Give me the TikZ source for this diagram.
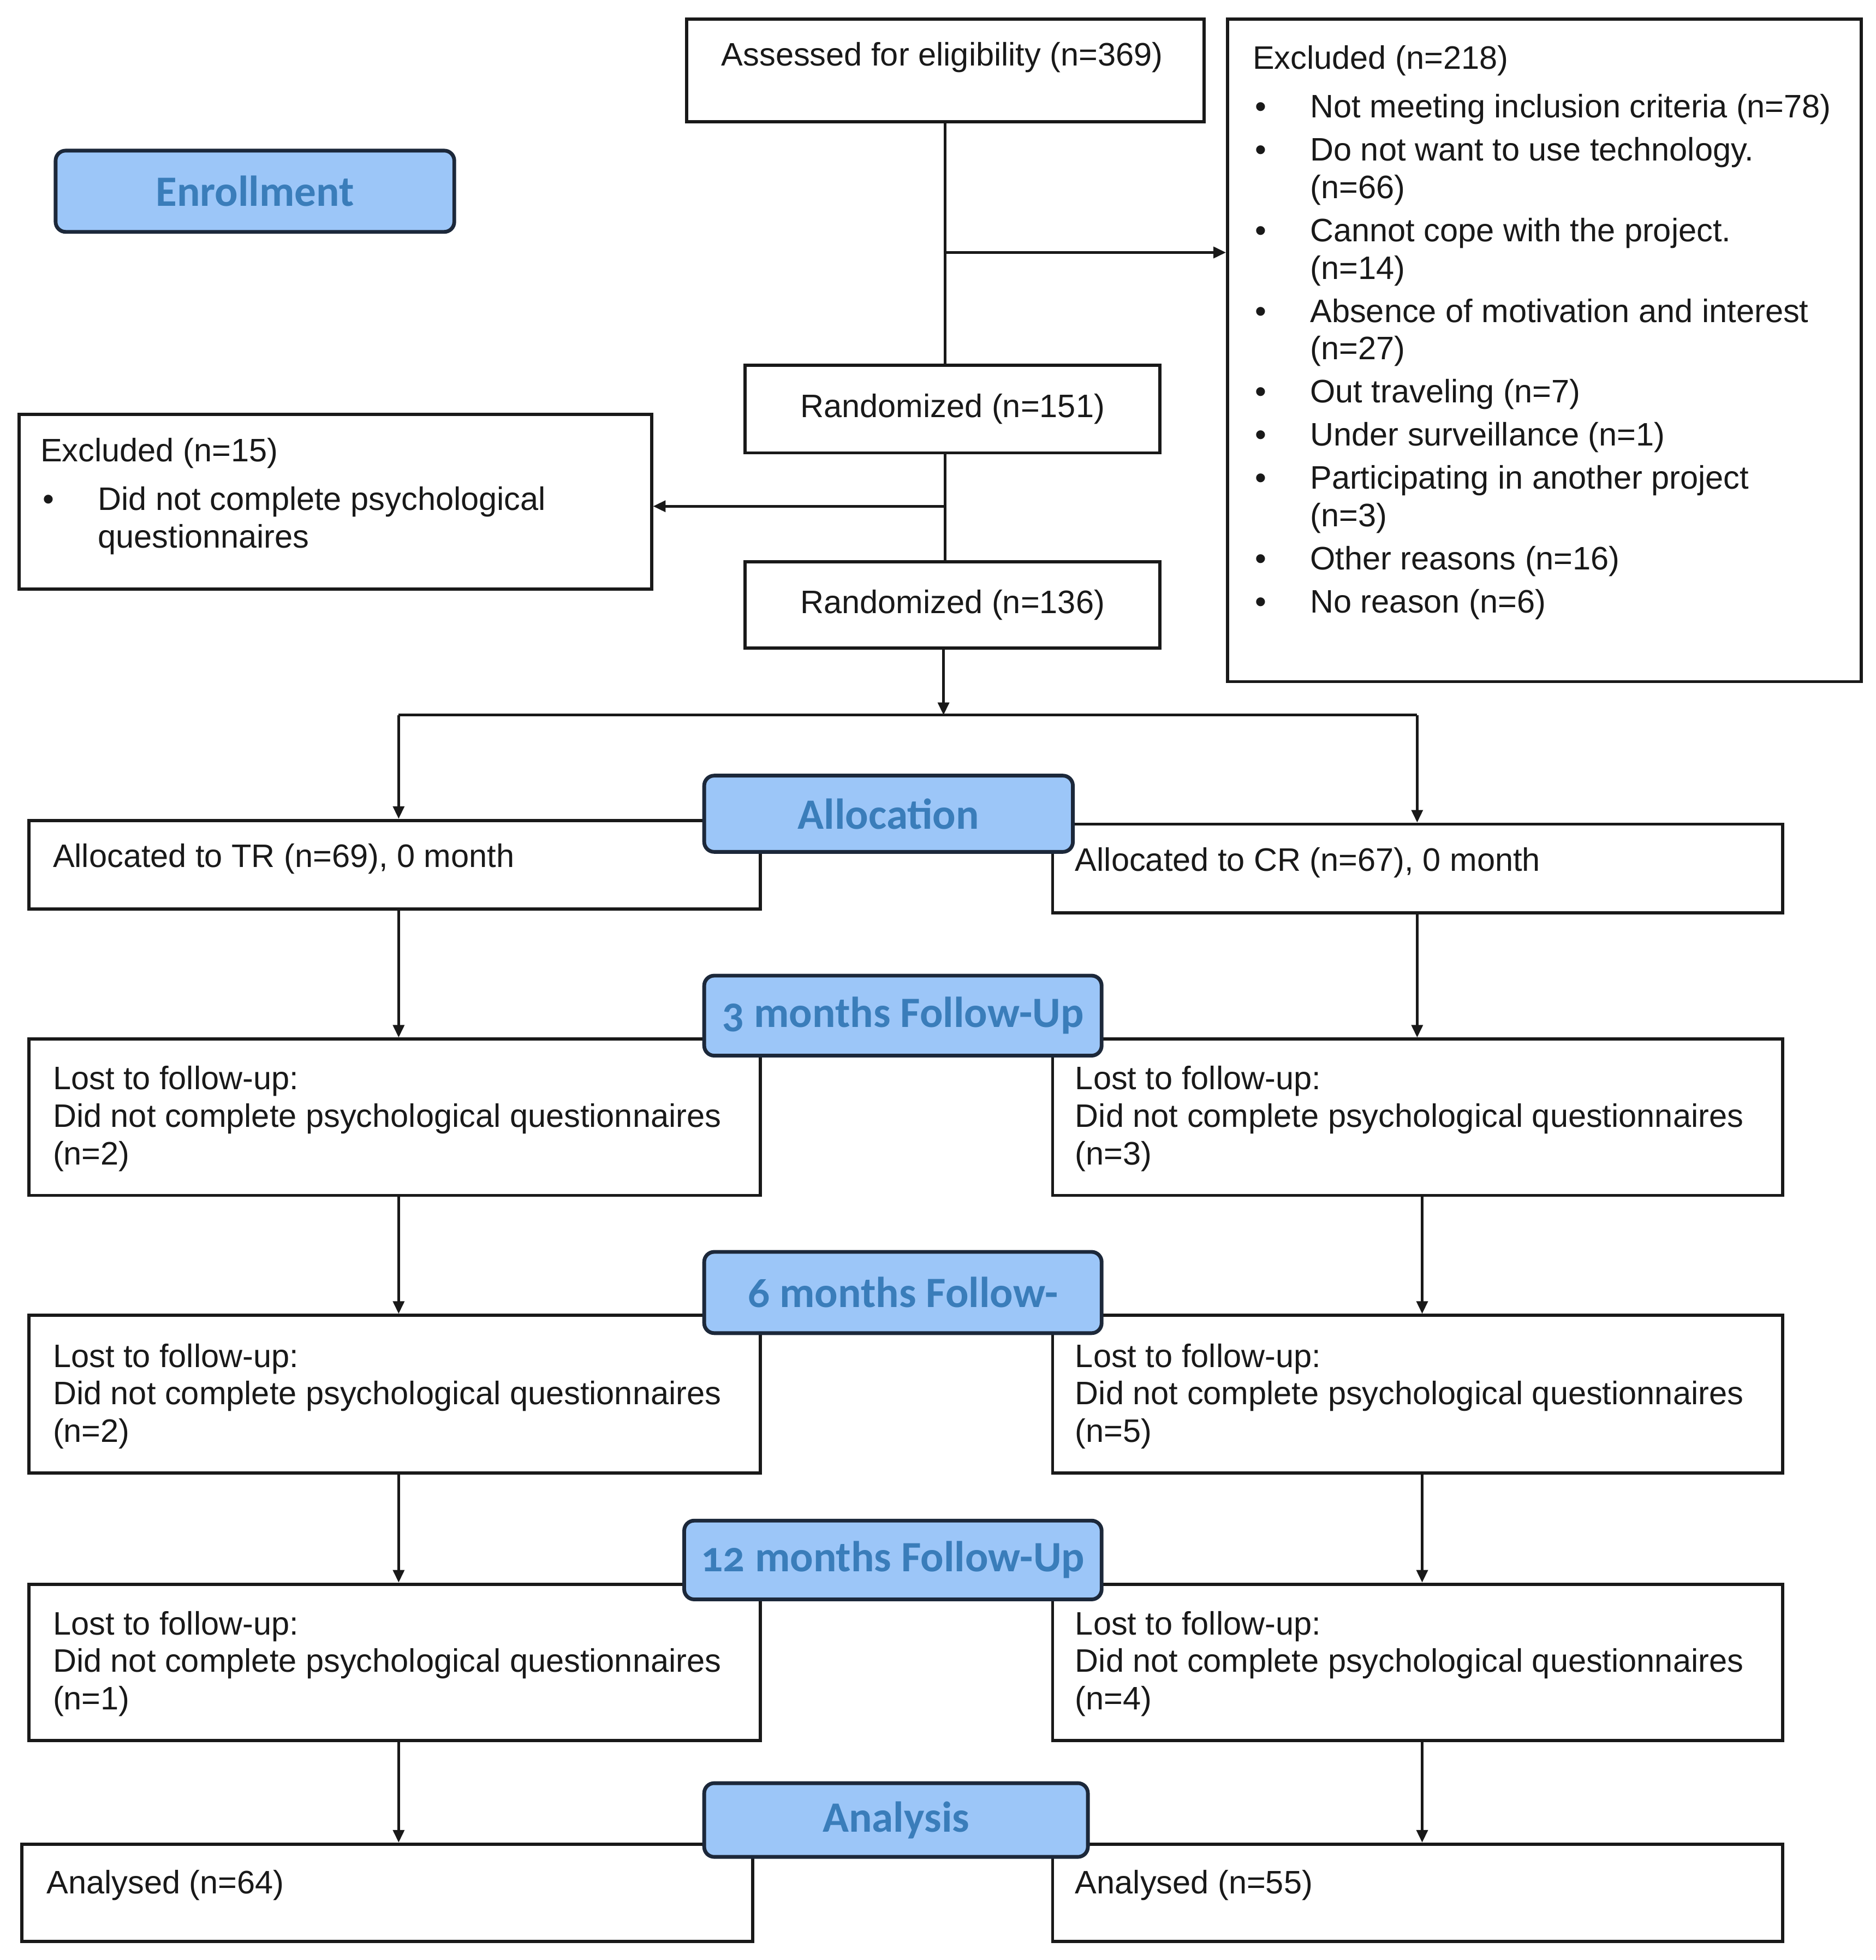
\documentclass[tikz,border=0pt]{standalone}
\usepackage{fontspec}
\setmainfont{Liberation Sans}
\newfontfamily\hfont{Carlito}[Numbers=OldStyle]
\usetikzlibrary{arrows.meta,calc}
\definecolor{hfill}{RGB}{156,198,248}
\definecolor{htext}{RGB}{58,125,186}
\definecolor{hdraw}{RGB}{28,40,58}
\definecolor{ink}{RGB}{25,25,25}
\newcommand\bitem{\makebox[23pt][l]{\hspace*{1pt}\textbullet}}
\newcommand\bind{\hspace*{23pt}}
\begin{document}
\begin{tikzpicture}[x=0.5pt,y=-0.5pt,
  wbox/.style={draw=ink, line width=1.3pt, fill=white, anchor=north west, inner sep=0pt},
  txt/.style={text=ink, inner sep=0pt, align=left, font=\fontsize{13}{15}\selectfont},
  hdr/.style={draw=hdraw, line width=1.5pt, fill=hfill, rounded corners=4pt, anchor=north west,
    inner sep=0pt, text=htext, font=\hfont\bfseries\fontsize{17.3}{20}\selectfont},
  ln/.style={draw=ink, line width=1pt},
  arr/.style={draw=ink, line width=1pt, -{Triangle[length=5pt,width=4.5pt]}}]
\useasboundingbox (0,0) rectangle (1501,1568);

% white boxes
\node[wbox, minimum width=207pt, minimum height=41pt] (assess) at (548,14) {};
\node[wbox, minimum width=253.5pt, minimum height=265pt] (excl) at (981,14) {};
\node[wbox, minimum width=166pt, minimum height=35pt, txt] (rand1) at (595,291) {Randomized (n=151)};
\node[wbox, minimum width=253pt, minimum height=70pt] (excl15) at (14,330) {};
\node[wbox, minimum width=166pt, minimum height=34.5pt, txt] (rand2) at (595,448) {Randomized (n=136)};
\node[wbox, minimum width=292.5pt, minimum height=35.5pt] (tr0) at (22,655) {};
\node[wbox, minimum width=292pt, minimum height=35.5pt] (cr0) at (841,658) {};
\node[wbox, minimum width=292.5pt, minimum height=62.5pt] (tr1) at (22,830) {};
\node[wbox, minimum width=292pt, minimum height=62.5pt] (cr1) at (841,830) {};
\node[wbox, minimum width=292.5pt, minimum height=63pt] (tr2) at (22,1051) {};
\node[wbox, minimum width=292pt, minimum height=63pt] (cr2) at (841,1051) {};
\node[wbox, minimum width=292.5pt, minimum height=62.5pt] (tr3) at (22,1266) {};
\node[wbox, minimum width=292pt, minimum height=62.5pt] (cr3) at (841,1266) {};
\node[wbox, minimum width=292.5pt, minimum height=39pt] (an1) at (16,1474) {};
\node[wbox, minimum width=292pt, minimum height=39pt] (an2) at (841,1474) {};

% texts
\node[txt, anchor=center] (assess-t) at (754,46) {Assessed for eligibility (n=369)};
\node[txt, anchor=north west] (excl-t) at (1002,36) {Excluded (n=218)\\[4.5pt]
\bitem Not meeting inclusion criteria (n=78)\\[2.25pt]
\bitem Do not want to use technology.\\
\bind (n=66)\\[2.25pt]
\bitem Cannot cope with the project.\\
\bind (n=14)\\[2.25pt]
\bitem Absence of motivation and interest\\
\bind (n=27)\\[2.25pt]
\bitem Out traveling (n=7)\\[2.25pt]
\bitem Under surveillance (n=1)\\[2.25pt]
\bitem Participating in another project\\
\bind (n=3)\\[2.25pt]
\bitem Other reasons (n=16)\\[2.25pt]
\bitem No reason (n=6)};
\node[txt, anchor=west] (excl15-t) at (32,397) {Excluded (n=15)\\[4.5pt]
\bitem Did not complete psychological\\
\bind questionnaires};
\node[txt, anchor=west] (tr0-t) at (42,687) {Allocated to TR (n=69), 0 month};
\node[txt, anchor=west] (cr0-t) at (860,690) {Allocated to CR (n=67), 0 month};
\node[txt, anchor=west] (tr1-t) at (42,895) {Lost to follow-up:\\Did not complete psychological questionnaires\\(n=2)};
\node[txt, anchor=west] (cr1-t) at (860,895) {Lost to follow-up:\\Did not complete psychological questionnaires\\(n=3)};
\node[txt, anchor=west] (tr2-t) at (42,1117) {Lost to follow-up:\\Did not complete psychological questionnaires\\(n=2)};
\node[txt, anchor=west] (cr2-t) at (860,1117) {Lost to follow-up:\\Did not complete psychological questionnaires\\(n=5)};
\node[txt, anchor=west] (tr3-t) at (42,1331) {Lost to follow-up:\\Did not complete psychological questionnaires\\(n=1)};
\node[txt, anchor=west] (cr3-t) at (860,1331) {Lost to follow-up:\\Did not complete psychological questionnaires\\(n=4)};
\node[txt, anchor=west] (an1-t) at (37,1508) {Analysed (n=64)};
\node[txt, anchor=west] (an2-t) at (860,1508) {Analysed (n=55)};

% connectors
\coordinate (cL) at (319,0);
\coordinate (cR) at (1134,0);
\coordinate (cR2) at (1138,0);
\coordinate (j1) at (755,202);
\coordinate (j2) at (755,405);
\coordinate (split) at (755,572);
\draw[ln] (assess.south) -- (assess.south |- rand1.north);
\draw[arr] (j1) -- (j1 -| excl.west);
\draw[ln] (rand1.south -| assess.south) -- (rand2.north -| assess.south);
\draw[arr] (j2) -- (j2 -| excl15.east);
\draw[arr] (rand2.south -| split) -- (split);
\draw[ln] (split -| cL) -- (split -| cR);
\draw[arr] (split -| cL) -- (tr0.north -| cL);
\draw[arr] (split -| cR) -- (cr0.north -| cR);
\draw[arr] (tr0.south -| cL) -- (tr1.north -| cL);
\draw[arr] (cr0.south -| cR) -- (cr1.north -| cR);
\draw[arr] (tr1.south -| cL) -- (tr2.north -| cL);
\draw[arr] (cr1.south -| cR2) -- (cr2.north -| cR2);
\draw[arr] (tr2.south -| cL) -- (tr3.north -| cL);
\draw[arr] (cr2.south -| cR2) -- (cr3.north -| cR2);
\draw[arr] (tr3.south -| cL) -- (an1.north -| cL);
\draw[arr] (cr3.south -| cR2) -- (an2.north -| cR2);

% header boxes
\node[hdr, minimum width=159.5pt, minimum height=32.5pt] (enroll) at (43,119) {Enrollment};
\node[hdr, minimum width=147.5pt, minimum height=30.5pt] (alloc) at (562,619) {Allocation};
\node[hdr, minimum width=159pt, minimum height=32pt] (fu3) at (562,779) {3 months Follow-Up};
\node[hdr, minimum width=159pt, minimum height=32.5pt] (fu6) at (562,1000) {6 months Follow-};
\node[hdr, minimum width=167pt, minimum height=31.5pt] (fu12) at (546,1215) {12 months Follow-Up};
\node[hdr, minimum width=153.5pt, minimum height=29.5pt] (analysis) at (562,1425) {Analysis};
\end{tikzpicture}
\end{document}
